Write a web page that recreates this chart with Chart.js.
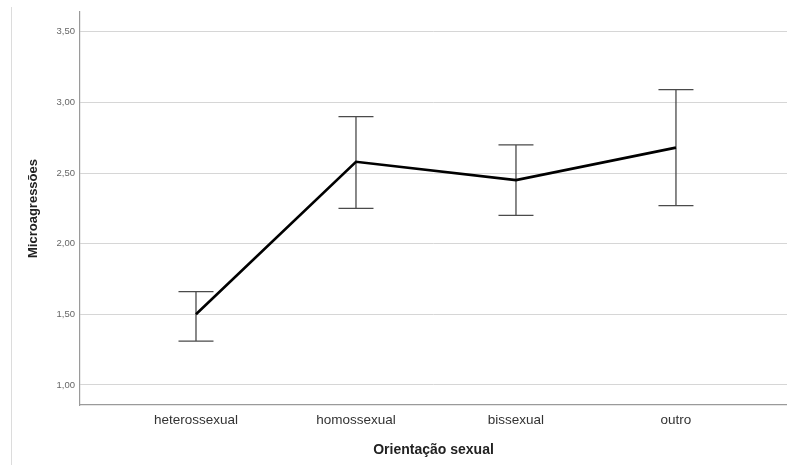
<!DOCTYPE html>
<html>
<head>
<meta charset="utf-8">
<script src="https://cdn.jsdelivr.net/npm/chart.js@4"></script>
<style>
  body { margin: 0; background: #fff; }
  #wrap { position: relative; width: 787px; height: 465px; }
  #moldura { position: absolute; left: 11px; top: 7px; bottom: 0; border-left: 1px solid #dcdcdc; }
</style>
</head>
<body>
<div id="wrap">
  <div id="moldura"></div>
  <canvas id="grafico" width="787" height="465"></canvas>
</div>
<script>
const categorias = ['heterossexual', 'homossexual', 'bissexual', 'outro'];
const medias = [1.50, 2.58, 2.45, 2.68];
const ic_inferior = [1.31, 2.25, 2.20, 2.27];
const ic_superior = [1.66, 2.90, 2.70, 3.09];
const ticks_y = [1.00, 1.50, 2.00, 2.50, 3.00, 3.50];

const fonte = 'Arial, "Liberation Sans", sans-serif';

// barras de erro desenhadas antes da linha
const barrasErro = {
  id: 'barrasErro',
  beforeDatasetsDraw(chart) {
    const ctx = chart.ctx;
    const x = chart.scales.x;
    const y = chart.scales.y;
    ctx.save();
    ctx.strokeStyle = '#4a4a4a';
    ctx.lineWidth = 1.3;
    for (let i = 0; i < categorias.length; i++) {
      const px = x.getPixelForValue(i);
      const yi = y.getPixelForValue(ic_inferior[i]);
      const ys = y.getPixelForValue(ic_superior[i]);
      ctx.beginPath();
      ctx.moveTo(px, yi); ctx.lineTo(px, ys);
      ctx.moveTo(px - 17.5, ys); ctx.lineTo(px + 17.5, ys);
      ctx.moveTo(px - 17.5, yi); ctx.lineTo(px + 17.5, yi);
      ctx.stroke();
    }
    ctx.restore();
  }
};

new Chart(document.getElementById('grafico'), {
  type: 'line',
  data: {
    datasets: [{
      data: medias.map((m, i) => ({ x: i, y: m })),
      borderColor: '#000',
      borderWidth: 2.6,
      pointRadius: 0,
      tension: 0,
      fill: false
    }]
  },
  options: {
    responsive: false,
    animation: false,
    layout: { padding: { top: 12, left: 0, right: 0, bottom: 0 } },
    plugins: { legend: { display: false }, tooltip: { enabled: false } },
    scales: {
      x: {
        type: 'linear',
        min: -0.725,
        max: 3.694,
        afterBuildTicks: s => { s.ticks = categorias.map((c, i) => ({ value: i })); },
        afterFit: s => { s.height = 60; },
        grid: { display: false, drawTicks: false },
        border: { display: true, color: '#9a9a9a', width: 1.2 },
        ticks: {
          padding: 7,
          color: '#333',
          font: { family: fonte, size: 13.5 },
          callback: v => categorias[v]
        },
        title: {
          display: true,
          text: 'Orientação sexual',
          color: '#222',
          font: { family: fonte, size: 14, weight: 'bold' },
          padding: { top: 0, bottom: 6 }
        }
      },
      y: {
        min: 0.858,
        max: 3.64,
        afterBuildTicks: s => { s.ticks = ticks_y.map(v => ({ value: v })); },
        afterFit: s => { s.width = 80; },
        grid: { color: '#d6d6d6', lineWidth: 1, drawTicks: false },
        border: { display: true, color: '#9a9a9a', width: 1.2 },
        ticks: {
          padding: 5,
          color: '#666',
          font: { family: fonte, size: 9.5 },
          callback: v => v.toFixed(2).replace('.', ',')
        },
        title: {
          display: true,
          text: 'Microagressões',
          color: '#222',
          font: { family: fonte, size: 13, weight: 'bold' },
          padding: { top: 26, bottom: 0 }
        }
      }
    }
  },
  plugins: [barrasErro]
});
</script>
</body>
</html>
